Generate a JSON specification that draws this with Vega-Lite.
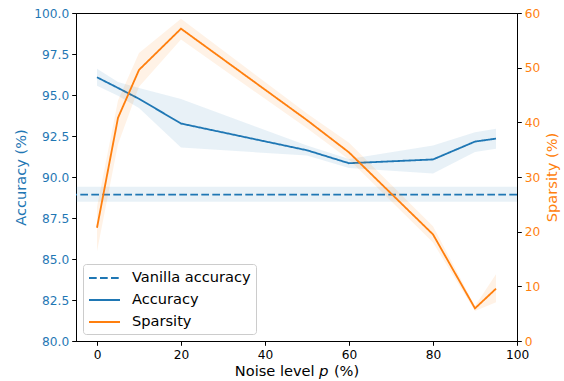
{
  "$schema": "https://vega.github.io/schema/vega-lite/v6.json",
  "width": 441,
  "height": 328,
  "autosize": {"type": "none"},
  "padding": {"left": 76, "top": 13, "right": 47, "bottom": 40},
  "config": {
    "view": {"stroke": "black", "strokeWidth": 1},
    "axis": {
      "grid": false,
      "domainColor": "black",
      "tickColor": "black",
      "tickSize": 4.3,
      "labelFont": "DejaVu Sans",
      "labelFontSize": 12.2,
      "titleFont": "DejaVu Sans",
      "titleFontSize": 14.6,
      "titleFontWeight": "normal",
      "labelPadding": 3
    },
    "legend": {
      "orient": "bottom-left",
      "offset": 7,
      "fillColor": "white",
      "strokeColor": "#cccccc",
      "cornerRadius": 3,
      "padding": 5,
      "symbolType": "M-1,0H2.875",
      "symbolSize": 256,
      "symbolStrokeWidth": 1.83,
      "labelFont": "DejaVu Sans",
      "labelFontSize": 14.6,
      "labelColor": "black",
      "labelOffset": 26,
      "rowPadding": 6
    }
  },
  "datasets": {
    "vanilla": [
      {"series": "Vanilla accuracy", "mean": 88.93, "lo": 88.49, "hi": 89.4}
    ],
    "acc": [
      {"series": "Accuracy", "p": 0, "mean": 96.08, "lo": 95.57, "hi": 96.6},
      {"series": "Accuracy", "p": 5, "mean": 95.43, "lo": 94.95, "hi": 95.8},
      {"series": "Accuracy", "p": 10, "mean": 94.77, "lo": 94.21, "hi": 95.43},
      {"series": "Accuracy", "p": 20, "mean": 93.26, "lo": 91.8, "hi": 94.76},
      {"series": "Accuracy", "p": 50, "mean": 91.63, "lo": 91.31, "hi": 91.92},
      {"series": "Accuracy", "p": 60, "mean": 90.84, "lo": 90.55, "hi": 91.1},
      {"series": "Accuracy", "p": 80, "mean": 91.07, "lo": 90.21, "hi": 91.92},
      {"series": "Accuracy", "p": 90, "mean": 92.16, "lo": 91.53, "hi": 92.73},
      {"series": "Accuracy", "p": 95, "mean": 92.34, "lo": 91.72, "hi": 92.94}
    ],
    "spars": [
      {"series": "Sparsity", "p": 0, "mean": 20.72, "lo": 16.44, "hi": 24.5},
      {"series": "Sparsity", "p": 5, "mean": 40.82, "lo": 36.0, "hi": 44.0},
      {"series": "Sparsity", "p": 10, "mean": 49.59, "lo": 46.5, "hi": 52.7},
      {"series": "Sparsity", "p": 20, "mean": 57.13, "lo": 55.13, "hi": 58.96},
      {"series": "Sparsity", "p": 50, "mean": 40.4, "lo": 38.9, "hi": 41.6},
      {"series": "Sparsity", "p": 60, "mean": 34.5, "lo": 33.2, "hi": 36.25},
      {"series": "Sparsity", "p": 80, "mean": 19.5, "lo": 18.0, "hi": 21.0},
      {"series": "Sparsity", "p": 90, "mean": 5.97, "lo": 5.5, "hi": 6.4},
      {"series": "Sparsity", "p": 95, "mean": 9.57, "lo": 7.07, "hi": 12.2}
    ]
  },
  "layer": [
    {
      "layer": [
        {
          "data": {"name": "vanilla"},
          "mark": {"type": "rect", "color": "#1f77b4", "opacity": 0.1},
          "encoding": {
            "y": {"field": "lo", "type": "quantitative", "scale": {"domain": [80, 100], "nice": false, "zero": false},
              "axis": {"title": "Accuracy (%)", "titleColor": "#1f77b4", "labelColor": "#1f77b4", "values": [80, 82.5, 85, 87.5, 90, 92.5, 95, 97.5, 100], "format": ".1f", "titlePadding": 5}},
            "y2": {"field": "hi"}
          }
        },
        {
          "data": {"name": "acc"},
          "mark": {"type": "area", "color": "#1f77b4", "opacity": 0.1},
          "encoding": {
            "x": {"field": "p", "type": "quantitative", "scale": {"domain": [-5, 100], "nice": false, "zero": false},
              "axis": {"title": "Noise level \uD835\uDE31 (%)", "values": [0, 20, 40, 60, 80, 100], "labelColor": "black", "titleColor": "black", "labelFlush": false, "titlePadding": 3}},
            "y": {"field": "lo", "type": "quantitative", "scale": {"domain": [80, 100], "nice": false, "zero": false},
              "axis": {"title": "Accuracy (%)", "titleColor": "#1f77b4", "labelColor": "#1f77b4", "values": [80, 82.5, 85, 87.5, 90, 92.5, 95, 97.5, 100], "format": ".1f", "titlePadding": 5}},
            "y2": {"field": "hi"}
          }
        },
        {
          "data": {"name": "vanilla"},
          "mark": {"type": "rule", "strokeWidth": 1.83},
          "encoding": {
            "y": {"field": "mean", "type": "quantitative", "scale": {"domain": [80, 100], "nice": false, "zero": false},
              "axis": {"title": "Accuracy (%)", "titleColor": "#1f77b4", "labelColor": "#1f77b4", "values": [80, 82.5, 85, 87.5, 90, 92.5, 95, 97.5, 100], "format": ".1f", "titlePadding": 5}},
            "color": {"field": "series", "type": "nominal", "scale": {"domain": ["Vanilla accuracy", "Accuracy", "Sparsity"], "range": ["#1f77b4", "#1f77b4", "#ff7f0e"]}, "legend": {"title": null}},
            "strokeDash": {"field": "series", "type": "nominal", "scale": {"domain": ["Vanilla accuracy", "Accuracy", "Sparsity"], "range": [[7.7, 3.3], [1, 0], [1, 0]]}, "legend": {"title": null}}
          }
        },
        {
          "data": {"name": "acc"},
          "mark": {"type": "line", "strokeWidth": 1.83},
          "encoding": {
            "x": {"field": "p", "type": "quantitative", "scale": {"domain": [-5, 100], "nice": false, "zero": false}},
            "y": {"field": "mean", "type": "quantitative", "scale": {"domain": [80, 100], "nice": false, "zero": false},
              "axis": {"title": "Accuracy (%)", "titleColor": "#1f77b4", "labelColor": "#1f77b4", "values": [80, 82.5, 85, 87.5, 90, 92.5, 95, 97.5, 100], "format": ".1f", "titlePadding": 5}},
            "color": {"field": "series", "type": "nominal", "scale": {"domain": ["Vanilla accuracy", "Accuracy", "Sparsity"], "range": ["#1f77b4", "#1f77b4", "#ff7f0e"]}, "legend": {"title": null}},
            "strokeDash": {"field": "series", "type": "nominal", "scale": {"domain": ["Vanilla accuracy", "Accuracy", "Sparsity"], "range": [[7.7, 3.3], [1, 0], [1, 0]]}, "legend": {"title": null}}
          }
        }
      ]
    },
    {
      "data": {"name": "spars"},
      "layer": [
        {
          "mark": {"type": "area", "color": "#ff7f0e", "opacity": 0.1},
          "encoding": {
            "x": {"field": "p", "type": "quantitative", "scale": {"domain": [-5, 100], "nice": false, "zero": false}},
            "y": {"field": "lo", "type": "quantitative", "scale": {"domain": [0, 60], "nice": false},
              "axis": {"title": "Sparsity (%)", "titleColor": "#ff7f0e", "labelColor": "#ff7f0e", "values": [0, 10, 20, 30, 40, 50, 60], "orient": "right", "titleAngle": 270, "titlePadding": 20}},
            "y2": {"field": "hi"}
          }
        },
        {
          "mark": {"type": "line", "strokeWidth": 1.83},
          "encoding": {
            "x": {"field": "p", "type": "quantitative", "scale": {"domain": [-5, 100], "nice": false, "zero": false}},
            "y": {"field": "mean", "type": "quantitative", "scale": {"domain": [0, 60], "nice": false},
              "axis": {"title": "Sparsity (%)", "titleColor": "#ff7f0e", "labelColor": "#ff7f0e", "values": [0, 10, 20, 30, 40, 50, 60], "orient": "right", "titleAngle": 270, "titlePadding": 20}},
            "color": {"field": "series", "type": "nominal", "scale": {"domain": ["Vanilla accuracy", "Accuracy", "Sparsity"], "range": ["#1f77b4", "#1f77b4", "#ff7f0e"]}, "legend": {"title": null}},
            "strokeDash": {"field": "series", "type": "nominal", "scale": {"domain": ["Vanilla accuracy", "Accuracy", "Sparsity"], "range": [[7.7, 3.3], [1, 0], [1, 0]]}, "legend": {"title": null}}
          }
        }
      ]
    }
  ],
  "resolve": {"scale": {"y": "independent"}}
}
